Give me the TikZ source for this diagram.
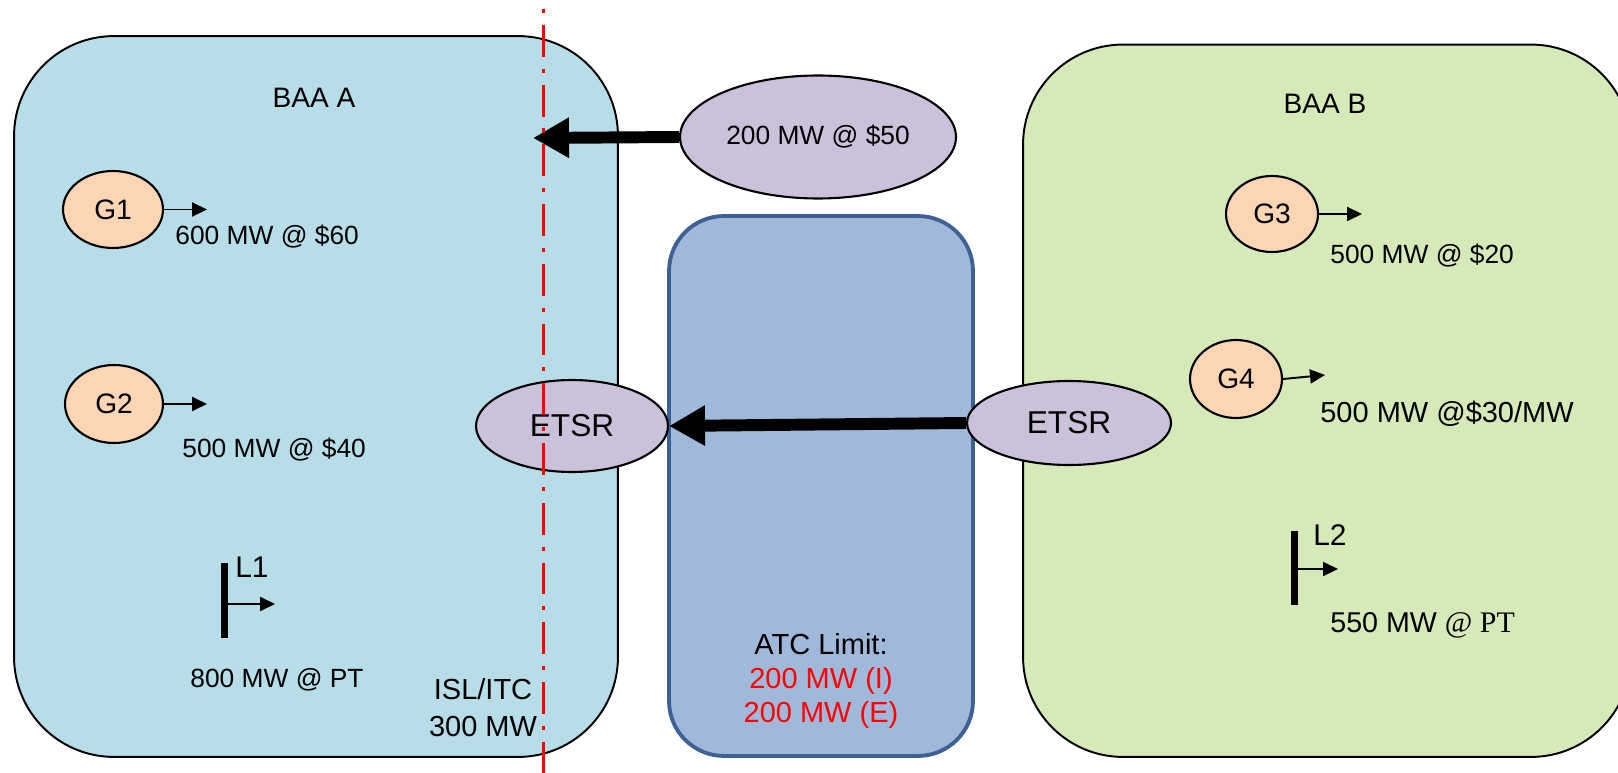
\documentclass[tikz,border=0pt]{standalone}
\usepackage{fontspec}
\setmainfont{Liberation Sans}
\newfontfamily\ptserif{Liberation Serif}
\usetikzlibrary{positioning,arrows.meta,shapes.geometric}
\definecolor{baablue}{HTML}{B7DDE8}
\definecolor{baagreen}{HTML}{D6EAB9}
\definecolor{atcfill}{HTML}{A0B9DA}
\definecolor{atcline}{HTML}{3E6195}
\definecolor{lavender}{HTML}{CCC1DA}
\definecolor{genpeach}{HTML}{FCD5B5}

\begin{document}
\begin{tikzpicture}[x=0.02cm,y=-0.02cm,
  area/.style={rectangle,draw=black,line width=1.1pt,rounded corners=2cm,fill=#1,inner sep=0pt},
  gen/.style={ellipse,draw=black,line width=1.2pt,fill=genpeach,inner sep=0pt,font=\fontsize{16}{19}\selectfont},
  etsr/.style={ellipse,draw=black,line width=1.2pt,fill=lavender,inner sep=0pt},
  flow/.style={-{Triangle[length=0.72cm,width=0.76cm]},line width=6.8pt},
  genarrow/.style={-{Triangle[length=0.3cm,width=0.28cm]},line width=1.1pt},
  loadbar/.style={rectangle,fill=black,inner sep=0pt,minimum width=0.14cm,minimum height=1.5cm},
  lab/.style={font=\fontsize{15}{18}\selectfont,inner sep=0pt,anchor=base west},
]
\path[use as bounding box,clip] (0,0) rectangle (1618,773);

% === BALANCING AREAS ===
\node[area=baablue,minimum width=12.08cm,minimum height=14.42cm] (baaA) at (316,396.5) {};
\node[area=baagreen,minimum width=12.16cm,minimum height=14.25cm] (baaB) at (1327,400.75) {};
\node[rectangle,draw=atcline,line width=2.2pt,rounded corners=1.1cm,fill=atcfill,
      minimum width=6.08cm,minimum height=10.8cm] (atc) at (821,486) {};

\node[font=\fontsize{16}{19}\selectfont,anchor=base] (baaAlab) at (314,108) {BAA A};
\node[font=\fontsize{16}{19}\selectfont,anchor=base] (baaBlab) at (1325,114) {BAA B};

% === BAA A: generators and load ===
\node[gen,minimum width=2.0cm,minimum height=1.54cm] (G1) at (113,209.5) {G1};
\coordinate (G1tip) at (207,209.5);
\draw[genarrow] (G1.east) -- (G1tip);
\node[lab] (G1lab) at (175,244.5) {600 MW @ \$60};

\node[gen,minimum width=1.96cm,minimum height=1.56cm] (G2) at (114,404) {G2};
\coordinate (G2tip) at (207,404);
\draw[genarrow] (G2.east) -- (G2tip);
\node[lab] (G2lab) at (182,457.5) {500 MW @ \$40};

\node[loadbar] (L1) at (224,600.5) {};
\coordinate (L1tip) at (275,604);
\draw[genarrow] (L1.east |- L1tip) -- (L1tip);
\node[lab,font=\fontsize{17}{20}\selectfont] (L1lab) at (235,577) {L1};
\node[lab,anchor=base] (L1val) at (277,687.5) {800 MW @ PT};

\node[font=\fontsize{16.5}{21}\selectfont,align=center,inner sep=0pt] (isl) at (483,708) {ISL/ITC\\300 MW};

% === BAA B: generators and load ===
\node[gen,minimum width=1.84cm,minimum height=1.52cm] (G3) at (1272,214) {G3};
\coordinate (G3tip) at (1362,214);
\draw[genarrow] (G3.east) -- (G3tip);
\node[lab] (G3lab) at (1330,263.5) {500 MW @ \$20};

\node[gen,minimum width=1.84cm,minimum height=1.56cm] (G4) at (1236,379) {G4};
\coordinate (G4tip) at (1325,375);
\draw[genarrow] (G4.east) -- (G4tip);
\node[lab,font=\fontsize{16.5}{19}\selectfont] (G4lab) at (1320,422.4) {500 MW @\$30/MW};

\node[loadbar] (L2) at (1294,568) {};
\coordinate (L2tip) at (1338,569);
\draw[genarrow] (L2.east |- L2tip) -- (L2tip);
\node[lab,font=\fontsize{17}{20}\selectfont] (L2lab) at (1313,545.5) {L2};
\node[lab,font=\fontsize{16.3}{19}\selectfont] (L2val) at (1330,632) {550 MW {\ptserif\fontsize{17}{20}\selectfont @ PT}};

% === ATC LIMIT ===
\node[font=\fontsize{16.5}{19.6}\selectfont,align=center,inner sep=0pt] (atclab) at (821,681)
  {ATC Limit:\\\textcolor{red}{200 MW (I)}\\\textcolor{red}{200 MW (E)}};

% === SCHEDULES ===
\node[etsr,minimum width=5.52cm,minimum height=2.46cm,font=\fontsize{15}{18}\selectfont] (bid) at (818,137) {200 MW @ \$50};
\coordinate (bidtip) at (533,138);
\draw[flow] (bid.west) -- (bidtip);

\node[etsr,minimum width=3.84cm,minimum height=1.84cm,font=\fontsize{18}{21}\selectfont] (etsrA) at (572,426) {ETSR};
\node[etsr,minimum width=4.08cm,minimum height=1.68cm,font=\fontsize{18}{21}\selectfont] (etsrB) at (1069,423) {ETSR};
\draw[flow] (etsrB.west) -- (etsrA.east);

% === ISL boundary ===
\coordinate (islTop) at (543,9);
\coordinate (islBot) at (543,773);
\draw[red,line width=1.7pt,dash pattern=on 2.3pt off 6.8pt on 18.1pt off 6.8pt] (islTop) -- (islBot);

\end{tikzpicture}
\end{document}
